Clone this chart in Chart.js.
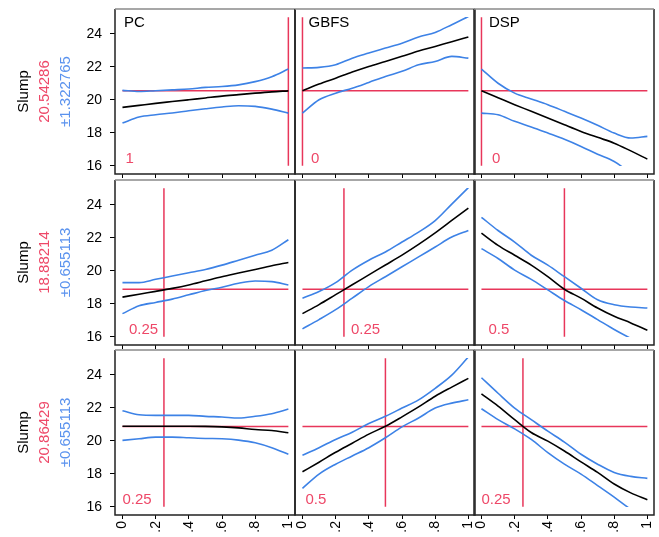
<!DOCTYPE html>
<html>
<head>
<meta charset="utf-8">
<script src="https://cdn.jsdelivr.net/npm/chart.js@4.4.1/dist/chart.umd.min.js"></script>
<style>
  body { margin: 0; background: #fff; width: 659px; height: 537px; position: relative; overflow: hidden; }
  canvas { position: absolute; }
</style>
</head>
<body>
<script>
const factors = ['PC', 'GBFS', 'DSP'];
const xGrid = [0, 0.1, 0.2, 0.3, 0.4, 0.5, 0.6, 0.7, 0.8, 0.9, 1];
const xTicks = [0, 0.2, 0.4, 0.6, 0.8, 1];
const yTicks = [16, 17, 18, 19, 20, 21, 22, 23, 24, 25];
const current = [[1, 0, 0], [0.25, 0.25, 0.5], [0.25, 0.5, 0.25]];
const predicted = [20.54286, 18.88214, 20.86429];
const halfWidth = ['1.322765', '0.655113', '0.655113'];

// profile traces: [row][factor][point at xGrid]
const mid = [
  [[19.54, 19.66, 19.78, 19.89, 20.0, 20.11, 20.22, 20.31, 20.4, 20.48, 20.54],
   [20.54, 20.95, 21.31, 21.68, 22.02, 22.32, 22.63, 22.95, 23.23, 23.52, 23.8],
   [20.54, 20.12, 19.7, 19.3, 18.89, 18.48, 18.08, 17.72, 17.37, 16.9, 16.4]],
  [[18.4, 18.58, 18.75, 18.93, 19.14, 19.39, 19.64, 19.86, 20.08, 20.3, 20.5],
   [17.4, 17.95, 18.55, 19.15, 19.75, 20.35, 20.95, 21.6, 22.3, 23.05, 23.8],
   [22.28, 21.54, 20.94, 20.34, 19.64, 18.88, 18.34, 17.74, 17.24, 16.84, 16.4]],
  [[20.88, 20.88, 20.88, 20.88, 20.88, 20.87, 20.84, 20.78, 20.68, 20.62, 20.48],
   [18.12, 18.7, 19.3, 19.85, 20.4, 20.88, 21.45, 22.05, 22.7, 23.25, 23.78],
   [22.84, 22.1, 21.28, 20.5, 19.98, 19.38, 18.72, 18.08, 17.38, 16.84, 16.42]]
];
const upper = [
  [[20.57, 20.5, 20.55, 20.6, 20.65, 20.75, 20.8, 20.9, 21.1, 21.4, 21.86],
   [21.92, 21.96, 22.12, 22.52, 22.83, 23.13, 23.43, 23.8, 24.08, 24.55, 25.05],
   [21.86, 21.0, 20.4, 20.05, 19.7, 19.3, 18.89, 18.45, 17.98, 17.68, 17.78]],
  [[19.28, 19.28, 19.48, 19.68, 19.88, 20.08, 20.34, 20.64, 20.94, 21.24, 21.88],
   [18.34, 18.74, 19.28, 20.04, 20.64, 21.14, 21.74, 22.34, 23.04, 24.04, 25.04],
   [23.24, 22.44, 21.74, 20.94, 20.34, 19.64, 18.94, 18.24, 17.94, 17.8, 17.74]],
  [[21.82, 21.58, 21.54, 21.54, 21.54, 21.48, 21.44, 21.38, 21.48, 21.64, 21.92],
   [19.12, 19.58, 20.08, 20.52, 21.04, 21.48, 21.98, 22.48, 23.18, 23.98, 25.08],
   [23.82, 22.88, 21.98, 21.28, 20.58, 19.92, 19.18, 18.58, 18.08, 17.84, 17.72]]
];
const lower = [
  [[18.59, 18.95, 19.09, 19.2, 19.33, 19.45, 19.56, 19.64, 19.6, 19.43, 19.19],
   [19.19, 20.0, 20.4, 20.7, 21.05, 21.41, 21.72, 22.12, 22.32, 22.63, 22.52],
   [19.19, 19.09, 18.69, 18.35, 17.98, 17.6, 17.17, 16.7, 16.26, 15.6, 15.3]],
  [[17.4, 17.88, 18.08, 18.28, 18.54, 18.8, 19.0, 19.24, 19.38, 19.34, 19.14],
   [16.48, 17.04, 17.64, 18.34, 19.04, 19.64, 20.24, 20.84, 21.44, 22.04, 22.44],
   [21.34, 20.74, 20.04, 19.48, 18.84, 18.2, 17.64, 17.04, 16.44, 15.9, 15.4]],
  [[20.02, 20.12, 20.22, 20.22, 20.18, 20.14, 20.12, 20.04, 19.88, 19.58, 19.18],
   [17.12, 17.98, 18.58, 19.08, 19.58, 20.18, 20.84, 21.38, 21.98, 22.28, 22.48],
   [21.94, 21.28, 20.72, 20.08, 19.28, 18.58, 17.98, 17.28, 16.58, 15.85, 15.3]]
];

// layout (pixels)
const colL = [115, 295, 474];
const rowT = [9, 180, 350];
const PW = 180, PH = 165;
const nameDx = [9, 13.5, 15];
const valueDx = [[10.5, 16, 18], [14, 56, 14.5], [7.5, 10.5, 7.5]];

const RED = '#e8365a';
const RED_TXT = '#ee4868';
const BLUE = '#3d82e6';
const BLUE_TXT = '#5a92ee';
const FONT = "'Liberation Sans', Arial, sans-serif";

const panelDeco = {
  id: 'panelDeco',
  afterDatasetsDraw(chart, args, opts) {
    const { ctx, chartArea: { left, top, right, bottom } } = chart;
    ctx.save();
    ctx.font = `15px ${FONT}`;
    ctx.textAlign = 'left';
    ctx.fillStyle = RED_TXT;
    ctx.textBaseline = 'alphabetic';
    ctx.fillText(opts.valueText, left + opts.valueDx, bottom - 11);
    if (opts.name) {
      ctx.fillStyle = '#000';
      ctx.textBaseline = 'top';
      ctx.fillText(opts.name, left + opts.nameDx, top + 6);
    }
    // frame
    ctx.lineWidth = 1.5;
    ctx.strokeStyle = '#222';
    ctx.beginPath();
    ctx.moveTo(left, top);
    ctx.lineTo(left, bottom);
    ctx.lineTo(right, bottom);
    ctx.lineTo(right, top);
    ctx.stroke();
    ctx.strokeStyle = '#8a8a8a';
    ctx.beginPath();
    ctx.moveTo(left, top);
    ctx.lineTo(right, top);
    ctx.stroke();
    ctx.restore();
  }
};

const rowLabel = {
  id: 'rowLabel',
  afterDraw(chart, args, opts) {
    if (!opts.show) return;
    const { ctx, chartArea: { top, bottom } } = chart;
    const cy = (top + bottom) / 2;
    const parts = [['Slump', '#000', 24], [opts.pred, RED_TXT, 45], [opts.ci, BLUE_TXT, 66]];
    ctx.save();
    ctx.font = `15px ${FONT}`;
    ctx.textAlign = 'center';
    ctx.textBaseline = 'middle';
    parts.forEach(([t, col, x]) => {
      ctx.save();
      ctx.translate(x, cy);
      ctx.rotate(-Math.PI / 2);
      ctx.fillStyle = col;
      ctx.fillText(t, 0, 0);
      ctx.restore();
    });
    ctx.restore();
  }
};

const clipBox = { left: 0, right: 0, top: -8, bottom: -8 };

function trace(ys, color) {
  return {
    data: xGrid.map((x, i) => ({ x, y: ys[i] })),
    borderColor: color,
    borderWidth: 1.6,
    pointRadius: 0,
    cubicInterpolationMode: 'monotone',
    fill: false,
    clip: clipBox
  };
}

function redLine(points) {
  return { data: points, borderColor: RED, borderWidth: 1.5, pointRadius: 0, fill: false, clip: clipBox };
}

for (let r = 0; r < 3; r++) {
  for (let c = 0; c < 3; c++) {
    const leftExtra = c === 0 ? colL[0] : 4;
    const bottomExtra = r === 2 ? 22 : 6;
    const w = leftExtra + PW + 4;
    const h = 4 + PH + bottomExtra;
    const canvas = document.createElement('canvas');
    canvas.width = w;
    canvas.height = h;
    canvas.style.width = w + 'px';
    canvas.style.height = h + 'px';
    canvas.style.left = (colL[c] - leftExtra) + 'px';
    canvas.style.top = (rowT[r] - 4) + 'px';
    document.body.appendChild(canvas);

    const cur = current[r][c];
    new Chart(canvas, {
      type: 'line',
      data: {
        datasets: [
          trace(mid[r][c], '#000'),
          trace(upper[r][c], BLUE),
          trace(lower[r][c], BLUE),
          redLine([{ x: 0, y: predicted[r] }, { x: 1, y: predicted[r] }]),
          redLine([{ x: cur, y: 16 }, { x: cur, y: 25 }])
        ]
      },
      options: {
        responsive: false,
        animation: false,
        events: [],
        layout: { padding: { left: c === 0 ? 0 : 4, right: 4, top: 4, bottom: 0 } },
        plugins: {
          legend: { display: false },
          tooltip: { enabled: false },
          panelDeco: {
            valueText: String(cur),
            valueDx: valueDx[r][c],
            name: r === 0 ? factors[c] : '',
            nameDx: nameDx[c]
          },
          rowLabel: { show: c === 0, pred: predicted[r].toFixed(5), ci: '±' + halfWidth[r] }
        },
        scales: {
          x: {
            type: 'linear',
            min: -0.045,
            max: 1.04,
            afterBuildTicks: s => { s.ticks = xTicks.map(value => ({ value })); },
            afterFit: s => { s.height = bottomExtra; s.paddingLeft = 0; s.paddingRight = 0; },
            grid: { drawOnChartArea: false, drawTicks: true, tickLength: 4, color: '#000' },
            border: { display: false },
            ticks: {
              display: r === 2,
              autoSkip: false,
              minRotation: 90,
              maxRotation: 90,
              padding: 2,
              color: '#000',
              font: { family: FONT, size: 14 },
              callback: v => String(v).replace(/^0\./, '.')
            }
          },
          y: {
            display: c === 0,
            min: 15.5,
            max: 25.5,
            afterBuildTicks: s => { s.ticks = yTicks.map(value => ({ value })); },
            afterFit: s => {
              s.width = c === 0 ? colL[0] : 0;
              s.paddingTop = 0;
              s.paddingBottom = 0;
            },
            grid: { drawOnChartArea: false, drawTicks: true, tickLength: 5, color: '#000' },
            border: { display: false },
            ticks: {
              padding: 8,
              color: '#000',
              font: { family: FONT, size: 14 },
              callback: v => (v % 2 === 0 ? String(v) : '')
            }
          }
        }
      },
      plugins: [panelDeco, rowLabel]
    });
  }
}
</script>
</body>
</html>
